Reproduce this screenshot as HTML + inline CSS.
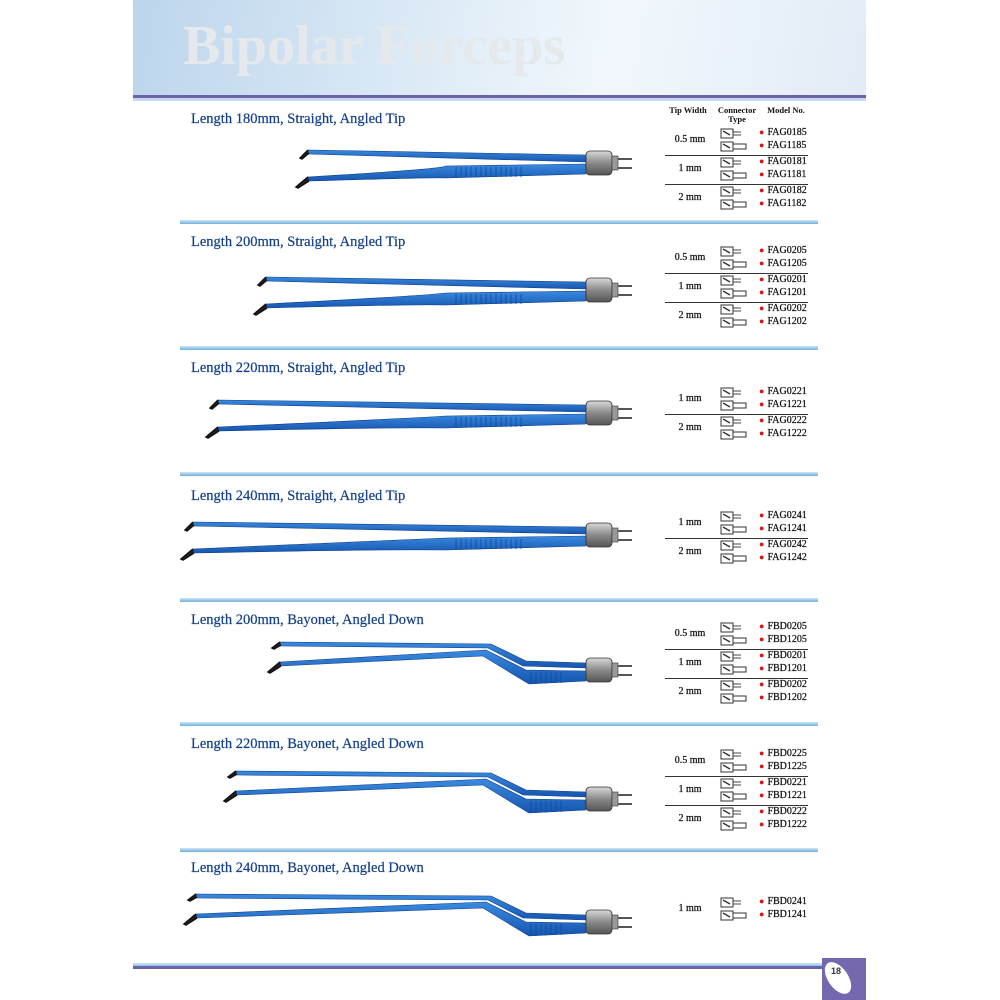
<!DOCTYPE html>
<html><head><meta charset="utf-8">
<style>
html,body{margin:0;padding:0;background:#fff;}
#page{position:relative;width:1000px;height:1000px;overflow:hidden;background:#fff;font-family:"Liberation Serif",serif;}
#sheet{position:absolute;left:133px;top:0;width:733px;height:1000px;background:#fff;}
#header{position:absolute;left:133px;top:0;width:733px;height:95px;background:linear-gradient(100deg,#bcd5ec 0%,#d9e8f5 35%,#f1f7fc 65%,#e2ecf6 100%);}
#header-title{position:absolute;left:50px;top:14px;font-size:56px;font-weight:bold;color:#e6e9ec;letter-spacing:0px;}
.purple-line{position:absolute;left:133px;width:733px;height:3px;background:#6b62ae;}
.divider{position:absolute;left:180px;width:638px;height:4px;background:linear-gradient(#cfe6f4,#6fb0dc);}
.title{position:absolute;left:191px;font-size:14.5px;color:#123f88;white-space:nowrap;-webkit-text-stroke:0.2px #123f88;}
.th{position:absolute;font-size:8.5px;font-weight:bold;color:#111;text-align:center;line-height:9px;}
.tw{position:absolute;font-size:10px;color:#111;width:60px;text-align:center;-webkit-text-stroke:0.25px #111;}
.model{position:absolute;font-size:10px;color:#111;white-space:nowrap;-webkit-text-stroke:0.25px #111;}
.model b{color:#d41818;font-size:9px;margin-right:3px;font-weight:normal;-webkit-text-stroke:0;}
.sep{position:absolute;left:665px;width:143px;height:1px;background:#333;}
#pagebox{position:absolute;left:822px;top:958px;width:44px;height:42px;background:#7467ae;}
</style></head>
<body>
<div id="page">
<div id="sheet"></div>
<div id="header"><div id="header-title">Bipolar Forceps</div></div>
<div class="purple-line" style="top:95px"></div>
<div style="position:absolute;left:133px;top:98px;width:733px;height:3px;background:#c7d7ee"></div>
<svg id="art" width="1000" height="1000" style="position:absolute;left:0;top:0">
<defs>
<linearGradient id="armg" x1="0" y1="0" x2="0" y2="1"><stop offset="0" stop-color="#3a8ae0"/><stop offset="1" stop-color="#1656b0"/></linearGradient>
<linearGradient id="congr" x1="0" y1="0" x2="0" y2="1"><stop offset="0" stop-color="#d8d8d8"/><stop offset="0.5" stop-color="#8a8a8a"/><stop offset="1" stop-color="#555"/></linearGradient>
</defs>
</svg>
<div id="content"></div>
<div style="position:absolute;left:133px;top:963px;width:690px;height:3px;background:linear-gradient(#cfe6f4,#8fc2e6)"></div>
<div class="purple-line" style="top:966px;width:690px"></div>
<div id="pagebox">
<div style="position:absolute;left:6px;top:2px;width:20px;height:36px;border-radius:50%;background:#fff;transform:rotate(-35deg)"></div>
<div style="position:absolute;left:9px;top:8px;font-family:'Liberation Sans',sans-serif;font-size:9px;font-weight:bold;color:#333">18</div>
</div>
</div>
<script>
const titles=["Length 180mm, Straight, Angled Tip","Length 200mm, Straight, Angled Tip","Length 220mm, Straight, Angled Tip","Length 240mm, Straight, Angled Tip","Length 200mm, Bayonet, Angled Down","Length 220mm, Bayonet, Angled Down","Length 240mm, Bayonet, Angled Down"];
const titleY=[111,234,360,488,612,736,860];
const tipX=[300,258,210,185,272,228,188];
const connY=[163,290,413,535,670,799,922];
const bayonet=[0,0,0,0,1,1,1];
const dividerY=[220,346,472,598,722,848];
const widths=[["0.5 mm","1 mm","2 mm"],["0.5 mm","1 mm","2 mm"],["1 mm","2 mm"],["1 mm","2 mm"],["0.5 mm","1 mm","2 mm"],["0.5 mm","1 mm","2 mm"],["1 mm"]];
const codes=[["0185","0181","0182"],["0205","0201","0202"],["0221","0222"],["0241","0242"],["0205","0201","0202"],["0225","0221","0222"],["0241"]];
const rowStart=[133,251,392,516,627,754,902];
const content=document.getElementById('content');
const svg=document.getElementById('art');
const NS="http://www.w3.org/2000/svg";
function add(tag,attrs,parent){const e=document.createElementNS(NS,tag);for(const k in attrs)e.setAttribute(k,attrs[k]);(parent||svg).appendChild(e);return e;}
function div(cls,style,html){const d=document.createElement('div');d.className=cls;d.style.cssText=style;d.innerHTML=html;content.appendChild(d);return d;}

let h=div('th','left:666px;top:106px;width:44px;','Tip Width');


h=div('th','left:712px;top:106px;width:50px;','Connector<br>Type');


h=div('th','left:764px;top:106px;width:44px;','Model No.');



dividerY.forEach(y=>{
 const d=div('divider','top:'+y+'px','');
 
 
});

function forceps(i){
 const g=add('g',{});
 
 
 const t=tipX[i], y=connY[i], cx=586;
 if(!bayonet[i]){
  add('path',{d:`M${t+8},${y-13} L${cx},${y-8} L${cx},${y-1} L${t+8},${y-9} Z`,fill:'url(#armg)',stroke:'#0d3f8a','stroke-width':0.6},g);
  add('path',{d:`M${t+8},${y-13} L${t},${y-5} L${t+2},${y-4} L${t+9},${y-10}`,fill:'#222',stroke:'#111','stroke-width':1.5},g);
  add('path',{d:`M${t+8},${y+14} Q${(t+cx)/2},${y+6} ${cx-140},${y+3} L${cx},${y+1} L${cx},${y+11} L${cx-140},${y+15} Q${(t+cx)/2},${y+14} ${t+9},${y+18} Z`,fill:'url(#armg)',stroke:'#0d3f8a','stroke-width':0.6},g);
  add('path',{d:`M${t+8},${y+14} L${t-4},${y+24} L${t-2},${y+25} L${t+9},${y+18}`,fill:'#222',stroke:'#111','stroke-width':1.5},g);
  for(let k=0;k<14;k++) add('line',{x1:cx-130+k*5,y1:y+4,x2:cx-130+k*5,y2:y+14,stroke:'#0d4aa0','stroke-width':0.8},g);
 } else {
  const bx=cx-95;
  add('path',{d:`M${t+8},${y-28} L${bx},${y-26} L${bx+35},${y-9} L${cx},${y-7} L${cx},${y-2} L${bx+32},${y-4} L${bx-3},${y-22} L${t+8},${y-24} Z`,fill:'url(#armg)',stroke:'#0d3f8a','stroke-width':0.6},g);
  add('path',{d:`M${t+8},${y-28} L${t},${y-22} L${t+2},${y-21} L${t+9},${y-25}`,fill:'#222',stroke:'#111','stroke-width':1.5},g);
  add('path',{d:`M${t+8},${y-8} L${bx-5},${y-20} L${bx+35},${y} L${cx},${y+1} L${cx},${y+11} L${bx+38},${y+14} L${bx-8},${y-14} L${t+9},${y-4} Z`,fill:'url(#armg)',stroke:'#0d3f8a','stroke-width':0.6},g);
  add('path',{d:`M${t+8},${y-8} L${t-4},${y+2} L${t-2},${y+3} L${t+9},${y-4}`,fill:'#222',stroke:'#111','stroke-width':1.5},g);
  for(let k=0;k<7;k++) add('line',{x1:bx+40+k*5,y1:y+2,x2:bx+40+k*5,y2:y+13,stroke:'#0d4aa0','stroke-width':0.8},g);
 }
 add('rect',{x:cx,y:y-12,width:26,height:24,rx:4,fill:'url(#congr)',stroke:'#333','stroke-width':0.8},g);
 add('rect',{x:cx+26,y:y-7,width:6,height:14,fill:'#999',stroke:'#333','stroke-width':0.6},g);
 add('line',{x1:cx+32,y1:y-4,x2:cx+46,y2:y-4,stroke:'#555','stroke-width':2},g);
 add('line',{x1:cx+32,y1:y+5,x2:cx+46,y2:y+5,stroke:'#555','stroke-width':2},g);
}

function connIcon(x,y,long){
 const g=add('g',{});
 
 
 add('rect',{x:x,y:y-4,width:12,height:9,fill:'#fff',stroke:'#333','stroke-width':1},g);
 add('path',{d:`M${x+2},${y-2} L${x+9},${y+2}`,stroke:'#333','stroke-width':1.4},g);
 if(long) add('rect',{x:x+12,y:y-2,width:13,height:5,fill:'#fff',stroke:'#333','stroke-width':1},g);
 else {add('line',{x1:x+12,y1:y-1,x2:x+20,y2:y-1,stroke:'#333','stroke-width':0.9},g);add('line',{x1:x+12,y1:y+2,x2:x+20,y2:y+2,stroke:'#333','stroke-width':0.9},g);}
}

titles.forEach((tt,i)=>{
 const t=div('title','top:'+titleY[i]+'px',tt);
 
 
 forceps(i);
 const pre=bayonet[i]?'FBD':'FAG';
 widths[i].forEach((w,r)=>{
  const y0=rowStart[i]+r*29;
  const tw=div('tw','left:660px;top:'+(y0+1)+'px',w);
  
  
  const c=codes[i][r];
  const m1=div('model','left:759px;top:'+(y0-6)+'px','<b>●</b>'+pre+c);
  
  
  const m2=div('model','left:759px;top:'+(y0+7)+'px','<b>●</b>'+pre+'1'+c.slice(1));
  
  
  connIcon(721,y0,false);
  connIcon(721,y0+13,true);
  if(r<widths[i].length-1){
   const s=div('sep','top:'+(y0+22)+'px','');
   
   
  }
 });
});
</script>
</body></html>
